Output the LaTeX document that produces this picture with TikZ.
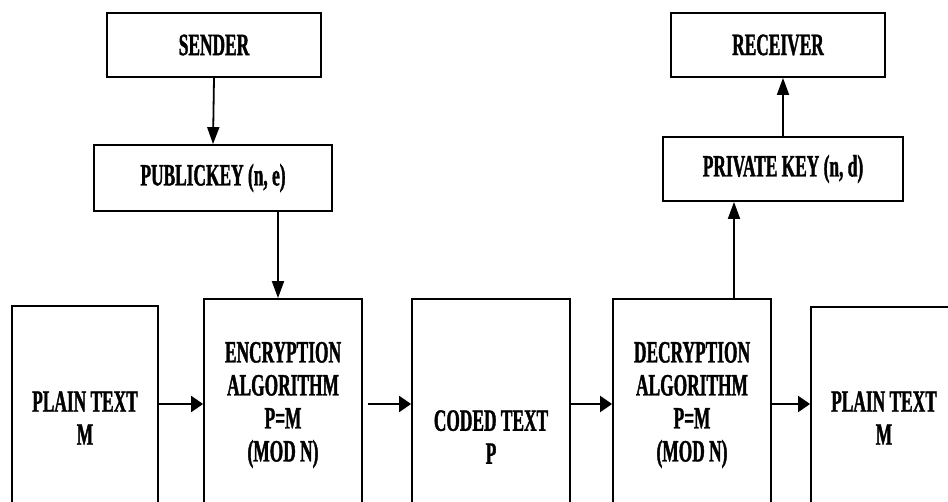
\documentclass[tikz,border=0pt]{standalone}
\usepackage{fontspec}
\setmainfont{Liberation Serif}[FakeStretch=0.56,BoldFeatures={FakeBold=1.2}]
\usetikzlibrary{arrows.meta}
\begin{document}
\begin{tikzpicture}[x=1pt,y=-1pt,
  box/.style={draw,line width=1.8pt,rectangle,inner sep=0pt,align=center,
    font=\fontsize{31}{33}\selectfont\bfseries},
  varr/.style={line width=1.8pt,-{Triangle[length=17pt,width=12pt]}},
  harr/.style={line width=2pt,-{Triangle[length=12pt,width=16pt]}}]
\useasboundingbox (0,0) rectangle (948,501);
\clip (0,0) rectangle (948,501);
% top boxes
\node[box,minimum width=214pt,minimum height=64pt] (sender) at (214,45) {SENDER};
\node[box,minimum width=238pt,minimum height=66pt] (public) at (213,178) {PUBLICKEY (n, e)};
\node[box,minimum width=214pt,minimum height=64pt] (receiver) at (778,45) {RECEIVER};
\node[box,minimum width=240pt,minimum height=64pt] (private) at (783,169) {PRIVATE KEY (n, d)};
% bottom boxes
\node[box,minimum width=146pt,minimum height=224pt] (plainL) at (85,418) {PLAIN TEXT\\M};
\node[box,minimum width=158pt,minimum height=212pt] (enc) at (283,405) {ENCRYPTION\\ALGORITHM\\P=M\\(MOD N)};
\node[box,minimum width=158pt,minimum height=276pt] (coded) at (491,437) {CODED TEXT\\P};
\node[box,minimum width=158pt,minimum height=212pt] (dec) at (692,405) {DECRYPTION\\ALGORITHM\\P=M\\(MOD N)};
\node[box,minimum width=146pt,minimum height=222pt] (plainR) at (884,418) {PLAIN TEXT\\M};
% helper coordinates
\coordinate (ay) at (0,404);
\coordinate (ax1) at (278,0);
\coordinate (ax2) at (734,0);
% connectors
\draw[varr] (sender.south) -- (public.north);
\draw[varr] (public.south -| ax1) -- (enc.north -| ax1);
\draw[varr] (dec.north -| ax2) -- (private.south -| ax2);
\draw[varr] (private.north) -- (receiver.south -| private.north);
\draw[harr] (plainL.east |- ay) -- (enc.west |- ay);
\draw[harr] ([xshift=5pt]enc.east |- ay) -- (coded.west |- ay);
\draw[harr] (coded.east |- ay) -- (dec.west |- ay);
\draw[harr] (dec.east |- ay) -- (plainR.west |- ay);
\end{tikzpicture}
\end{document}
